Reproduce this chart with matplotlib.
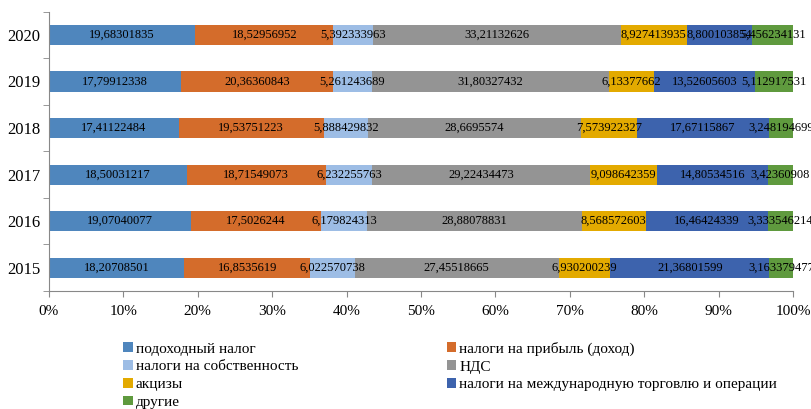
import matplotlib
matplotlib.use('Agg')
import matplotlib.pyplot as plt
import numpy as np

plt.rcParams['font.family'] = ['Liberation Serif', 'DejaVu Serif']

years = ['2015', '2016', '2017', '2018', '2019', '2020']
names = ['подоходный налог', 'налоги на прибыль (доход)', 'налоги на собственность',
         'НДС', 'акцизы', 'налоги на международную торговлю и операции', 'другие']
income = [18.20708501, 19.07040077, 18.50031217, 17.41122484, 17.79912338, 19.68301835]
profit = [16.8535619, 17.5026244, 18.71549073, 19.53751223, 20.36360843, 18.52956952]
property_tax = [6.022570738, 6.179824313, 6.232255763, 5.888429832, 5.261243689, 5.392333963]
vat = [27.45518665, 28.88078831, 29.22434473, 28.6695574, 31.80327432, 33.21132626]
excise = [6.930200239, 8.568572603, 9.098642359, 7.573922327, 6.13377662, 8.927413935]
trade = [21.36801599, 16.46424339, 14.80534516, 17.67115867, 13.52605603, 8.800103854]
other = [3.163379477, 3.333546214, 3.42360908, 3.248194699, 5.112917531, 5.456234131]
colors = ['#4f86bd', '#d46c2b', '#9dbde5', '#949494', '#e3aa00', '#3d63ad', '#5f9a3e']

series = [income, profit, property_tax, vat, excise, trade, other]

fig = plt.figure(figsize=(8.12, 4.09), dpi=100)
ax = fig.add_axes([0.0603, 0.2885, 0.9163, 0.683])

y = np.arange(len(years))
left = np.zeros(len(years))
handles = []
for vals, name, c in zip(series, names, colors):
    vals = np.array(vals)
    share = vals / 100.0
    b = ax.barh(y, share, left=left, height=0.43, color=c, label=name)
    handles.append(b)
    # value labels centred in each segment, comma as decimal separator
    for yi, l, s, v in zip(y, left, share, vals):
        ax.text(l + s / 2, yi, str(v).replace('.', ','), ha='center', va='center',
                fontsize=9, color='black')
    left += share

ax.set_xlim(0, 1)
ax.set_ylim(-0.5, len(years) - 0.5)
ax.set_yticks(y)
ax.set_yticklabels(years, fontsize=12)
ax.set_xticks(np.arange(0, 1.01, 0.1))
ax.set_xticklabels([f'{int(t)}%' for t in np.arange(0, 101, 10)], fontsize=11)
ax.set_yticks(np.arange(-0.5, len(years), 1), minor=True)
ax.tick_params(axis='y', which='major', length=0, pad=6)
ax.tick_params(axis='y', which='minor', length=4, color='#888888')
ax.tick_params(axis='x', length=4, color='#888888', pad=6)
for side in ['top', 'right']:
    ax.spines[side].set_visible(False)
for side in ['left', 'bottom']:
    ax.spines[side].set_color('#888888')

# legend filled row by row in two columns
order = [0, 2, 4, 6, 1, 3, 5]
fig.legend([handles[i] for i in order], [names[i] for i in order],
           loc='upper left', bbox_to_anchor=(0.152, 0.165), ncol=2, frameon=False,
           fontsize=11, handlelength=0.6, handleheight=0.6, handletextpad=0.2,
           labelspacing=0.3, columnspacing=9.75, borderaxespad=0, borderpad=0)

fig.savefig('out.png', dpi=100)
